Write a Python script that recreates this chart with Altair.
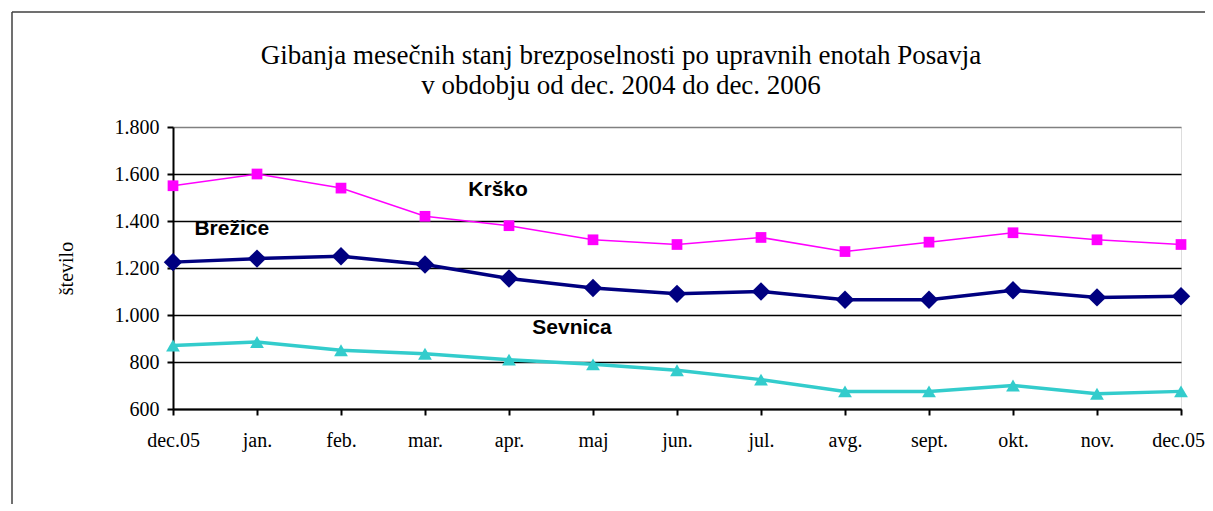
import json
import altair as alt
import pandas as pd

months = ["dec.05", "jan.", "feb.", "mar.", "apr.", "maj", "jun.", "jul.",
          "avg.", "sept.", "okt.", "nov.", "dec.05"]
krsko = [1550, 1600, 1540, 1420, 1380, 1320, 1300, 1330, 1270, 1310, 1350, 1320, 1300]
brezice = [1225, 1240, 1250, 1215, 1155, 1115, 1090, 1100, 1065, 1065, 1105, 1075, 1080]
sevnica = [870, 885, 850, 835, 810, 790, 765, 725, 675, 675, 700, 665, 675]
series = ["Brežice", "Krško", "Sevnica"]
y_ticks = [600, 800, 1000, 1200, 1400, 1600, 1800]

# annotation label anchors (category index, value)
label_x = [0.70, 3.87, 4.75]
label_y = [1366, 1532, 945]

colors = ["#000080", "#FF00FF", "#33CCCC"]
shapes = ["diamond", "square", "triangle-up"]
widths = [3.5, 1.5, 3.5]
sizes = [340, 115, 190]

rows = []
for name, vals in zip(series, [brezice, krsko, sevnica]):
    for i, v in enumerate(vals):
        rows.append({"series": name, "i": i, "v": v})
df = pd.DataFrame(rows)
lab = pd.DataFrame({"series": series, "i": label_x, "v": label_y})

serif = "Liberation Serif"
x = alt.X("i:Q", scale=alt.Scale(domain=[0, 12], nice=False, zero=False),
          axis=alt.Axis(values=list(range(13)), labelExpr=json.dumps(months) + "[datum.value]",
                        title=None, grid=False, domainColor="black", domainWidth=2,
                        tickColor="black", tickWidth=2, tickSize=6, labelPadding=15,
                        labelFlush=False, labelOverlap=False,
                        labelOffset={"condition": {"test": "datum.value == 12", "value": -3}, "value": 0},
                        labelFont=serif, labelFontSize=20, labelColor="black"))
y = alt.Y("v:Q", scale=alt.Scale(domain=[600, 1800], nice=False, zero=False),
          axis=alt.Axis(values=y_ticks, title="število",
                        labelExpr="replace(format(datum.value, ','), ',', '.')",
                        grid=True,
                        gridColor={"condition": {"test": "datum.value == 1800", "value": "#808080"}, "value": "black"},
                        gridWidth=1.6, domainColor="black", domainWidth=2,
                        tickColor="black", tickWidth=2, tickSize=6, labelPadding=8,
                        labelFlush=False,
                        labelFont=serif, labelFontSize=20, labelColor="black",
                        titleFont=serif, titleFontSize=20, titleFontWeight="normal",
                        titleColor="black", titlePadding=38))
color = alt.Color("series:N", scale=alt.Scale(domain=series, range=colors), legend=None)

lines = alt.Chart(df).mark_line().encode(
    x=x, y=y, color=color,
    strokeWidth=alt.StrokeWidth("series:N", scale=alt.Scale(type="ordinal", domain=series, range=widths), legend=None),
)
points = alt.Chart(df).mark_point(filled=True, opacity=1).encode(
    x=x, y=y, color=color,
    shape=alt.Shape("series:N", scale=alt.Scale(domain=series, range=shapes), legend=None),
    size=alt.Size("series:N", scale=alt.Scale(type="ordinal", domain=series, range=sizes), legend=None),
)
labels = alt.Chart(lab).mark_text(font="Liberation Sans", fontWeight="bold", fontSize=21,
                                  color="black").encode(x="i:Q", y="v:Q", text="series:N")

border_top = alt.Chart(pd.DataFrame({"a": [0]})).mark_rule(color="#404040", strokeWidth=1.5).encode(
    x=alt.value(-161), x2=alt.value(1100), y=alt.value(-115))
border_left = alt.Chart(pd.DataFrame({"a": [0]})).mark_rule(color="#404040", strokeWidth=1.5).encode(
    x=alt.value(-161), y=alt.value(-115), y2=alt.value(400))

chart = alt.layer(border_top, border_left, lines, points, labels).properties(
    width=1008, height=282, autosize="none",
    padding={"left": 165, "top": 119, "right": 24, "bottom": 95},
    title=alt.TitleParams(
        text=["Gibanja mesečnih stanj brezposelnosti po upravnih enotah Posavja",
              "v obdobju od dec. 2004 do dec. 2006"],
        font=serif, fontSize=27, fontWeight="normal", lineHeight=30, color="black",
        anchor="middle", dx=-56, offset=-89),
).configure_view(stroke="#808080", strokeWidth=2).configure(background="white")

chart.save("out.html", embed_options={"renderer": "svg", "actions": False})
